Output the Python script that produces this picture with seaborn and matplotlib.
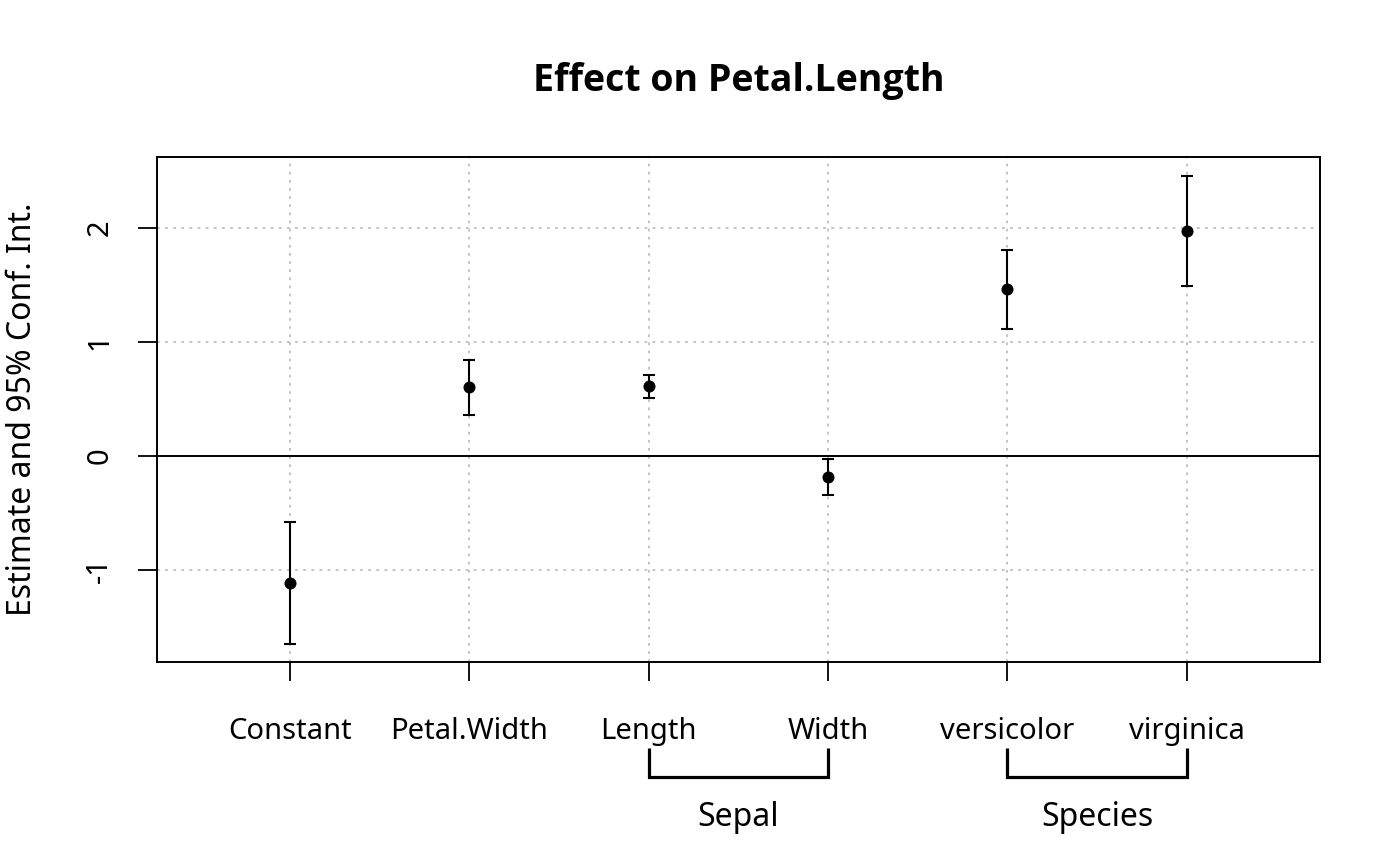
import numpy as np
import pandas as pd
import matplotlib
matplotlib.use("Agg")
import matplotlib.pyplot as plt
import matplotlib.transforms as mtransforms
from matplotlib import font_manager
import seaborn as sns

# ---- data ----
terms = ["Constant", "Petal.Width", "Length", "Width", "versicolor", "virginica"]
estimates = [-1.11, 0.60, 0.61, -0.18, 1.46, 1.97]
ci_lower = [-1.646, 0.356, 0.507, -0.342, 1.115, 1.486]
ci_upper = [-0.578, 0.838, 0.705, -0.026, 1.804, 2.455]
groups = ["Sepal", "Species"]
group_members = [["Length", "Width"], ["versicolor", "virginica"]]
y_ticks = [-1, 0, 1, 2]
title = "Effect on Petal.Length"
y_label = "Estimate and 95% Conf. Int."

sns.set_style("white")
plt.rcParams["font.family"] = ["Noto Sans", "DejaVu Sans"]
plt.rcParams["text.color"] = "black"
plt.rcParams["xtick.color"] = "black"
plt.rcParams["ytick.color"] = "black"

# pick a bold-capable family for the title
bold_family = "DejaVu Sans"
for fam in ["Noto Sans", "Open Sans", "Lato", "Roboto"]:
    try:
        fp = font_manager.FontProperties(family=fam, weight="bold")
        path = font_manager.findfont(fp, fallback_to_default=False)
        if "bold" in path.lower():
            bold_family = fam
            break
    except Exception:
        pass

W, H = 1400, 866
fig = plt.figure(figsize=(W / 100, H / 100), dpi=100)
ax_l, ax_r, ax_t, ax_b = 157.3, 1319.5, 156.7, 662.3
ax = fig.add_axes([ax_l / W, 1 - ax_b / H, (ax_r - ax_l) / W, (ax_b - ax_t) / H])

pos = np.arange(1, len(terms) + 1)
df = pd.DataFrame({"term": terms, "pos": pos, "est": estimates,
                   "lo": ci_lower, "hi": ci_upper})

# grid
for x in pos:
    ax.axvline(x, color="#bebebe", lw=1.3, ls=(0, (1.5, 3)), zorder=0)
for y in y_ticks:
    if y != 0:
        ax.axhline(y, color="#bebebe", lw=1.3, ls=(0, (1.5, 3)), zorder=0)
ax.axhline(0, color="black", lw=1.4, zorder=1)

# error bars and points
ax.errorbar(df["pos"], df["est"],
            yerr=[df["est"] - df["lo"], df["hi"] - df["est"]],
            fmt="none", ecolor="black", elinewidth=1.5, capsize=4.5,
            capthick=1.5, zorder=2)
sns.scatterplot(data=df, x="pos", y="est", color="black", s=75,
                edgecolor="black", linewidth=0, ax=ax, zorder=3)

ax.set_xlim(0.26, 6.74)
ax.set_ylim(-1.806, 2.62)
ax.set_xlabel("")
ax.set_ylabel("")

for s in ax.spines.values():
    s.set_visible(True)
    s.set_color("black")
    s.set_linewidth(1.4)

ax.set_xticks(pos)
ax.set_xticklabels(terms, fontsize=21)
ax.set_yticks(y_ticks)
ax.set_yticklabels([str(v) for v in y_ticks], fontsize=21, rotation=90,
                   va="center")
ax.tick_params(axis="x", direction="out", length=13.5, width=1.3, pad=26,
               color="black", bottom=True)
ax.tick_params(axis="y", direction="out", length=14, width=1.3, pad=17,
               color="black", left=True)

# group brackets
trans = mtransforms.blended_transform_factory(ax.transData, ax.transAxes)
y_top = (ax_b - 748) / (ax_b - ax_t)
y_bot = (ax_b - 777) / (ax_b - ax_t)
y_lab = (ax_b - 817) / (ax_b - ax_t)
for g, members in zip(groups, group_members):
    x0 = pos[terms.index(members[0])]
    x1 = pos[terms.index(members[-1])]
    ax.plot([x0, x0, x1, x1], [y_top, y_bot, y_bot, y_top], color="black",
            lw=2.3, transform=trans, clip_on=False, solid_joinstyle="miter",
            solid_capstyle="butt")
    ax.text((x0 + x1) / 2, y_lab, g, transform=trans, ha="center",
            va="center", fontsize=23)

# y label & title
ax.text((23 - ax_l) / (ax_r - ax_l), 0.5, y_label, transform=ax.transAxes,
        rotation=90, ha="center", va="center", fontsize=23)
fig.text(((ax_l + ax_r) / 2) / W, 1 - 81 / H, title, ha="center",
         va="center", fontsize=27, fontweight="bold", family=bold_family)

fig.savefig("out.png", dpi=100)
